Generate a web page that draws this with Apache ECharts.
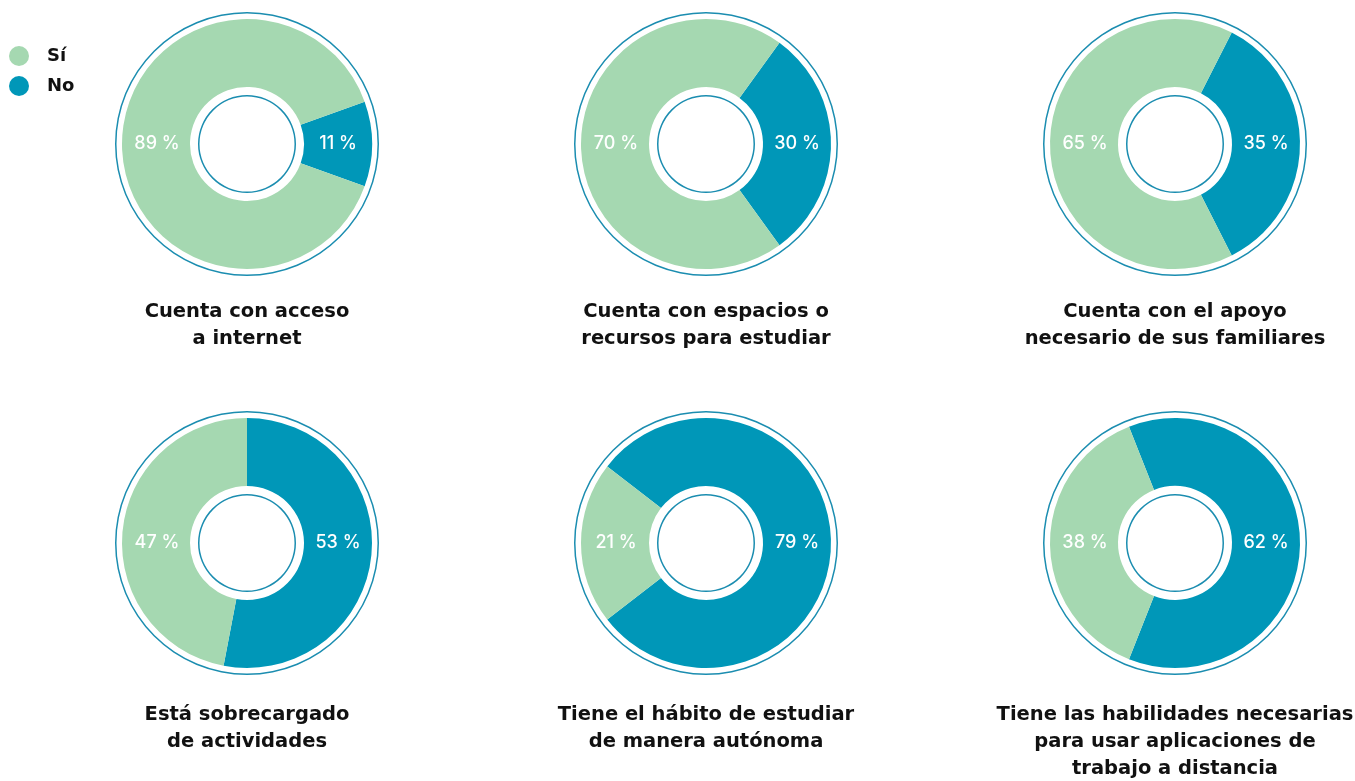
<!DOCTYPE html>
<html>
<head>
<meta charset="utf-8">
<script src="https://cdn.jsdelivr.net/npm/echarts@6/dist/echarts.min.js"></script>
<style>
  html, body { margin: 0; padding: 0; background: #fff; }
  #chart { width: 1355px; height: 781px; }
</style>
</head>
<body>
<div id="chart"></div>
<script>
"use strict"

// data
const categories = ["Sí", "No"];
const titles = [
    "Cuenta con acceso\na internet",
    "Cuenta con espacios o\nrecursos para estudiar",
    "Cuenta con el apoyo\nnecesario de sus familiares",
    "Está sobrecargado\nde actividades",
    "Tiene el hábito de estudiar\nde manera autónoma",
    "Tiene las habilidades necesarias\npara usar aplicaciones de\ntrabajo a distancia"
];
const siValues = [89, 70, 65, 47, 21, 38];
const noValues = [11, 30, 35, 53, 79, 62];

// layout
const centersX = [247, 706, 1175];
const centersY = [144, 543];
const titleTops = [293, 696];
const startAngles = [19.8, 54, 63, 90, 142.2, 111.6];
const GREEN = "#a5d8b1", BLUE = "#0097b8", LINE = "#1b8db0";
const TFONT = "'DejaVu Sans', sans-serif";
const LFONT = "Inter, 'Noto Sans', sans-serif";

const myChart = echarts.init(document.getElementById("chart"), null, { renderer: "canvas" });

const series = [];
const title = [];
titles.forEach((t, i) =>
{
    const cx = centersX[i % 3], cy = centersY[Math.floor(i / 3)];
    title.push({
        text: t,
        left: cx - 5,
        top: titleTops[Math.floor(i / 3)],
        textAlign: "center",
        textStyle: { fontFamily: TFONT, fontSize: 19.5, fontWeight: "bold", color: "#111", lineHeight: 27 }
    });
    // outer thin ring
    series.push({
        type: "pie", silent: true, animation: false,
        center: [cx, cy], radius: [130.5, 132],
        label: { show: false }, labelLine: { show: false },
        data: [{ value: 1, name: "", itemStyle: { color: LINE } }]
    });
    // inner thin ring
    series.push({
        type: "pie", silent: true, animation: false,
        center: [cx, cy], radius: [47.5, 49],
        label: { show: false }, labelLine: { show: false },
        data: [{ value: 1, name: "", itemStyle: { color: LINE } }]
    });
    series.push({
        type: "pie", animation: false,
        center: [cx, cy], radius: [57, 125],
        startAngle: startAngles[i], clockwise: true,
        label: {
            show: true, position: "inside", color: "#fff",
            fontFamily: LFONT, fontSize: 18, fontWeight: 500,
            formatter: p => p.value + " %"
        },
        labelLine: { show: false },
        labelLayout: p => ({
            x: cx + (p.dataIndex === 0 ? 91 : -90),
            y: cy, align: "center", verticalAlign: "middle"
        }),
        emphasis: { disabled: true },
        data: [
            { name: categories[1], value: noValues[i], itemStyle: { color: BLUE } },
            { name: categories[0], value: siValues[i], itemStyle: { color: GREEN } }
        ]
    });
});

const option = {
    color: [GREEN, BLUE],
    title: title,
    legend: {
        data: [
            { name: categories[0], itemStyle: { color: GREEN } },
            { name: categories[1], itemStyle: { color: BLUE } }
        ],
        orient: "vertical",
        left: 4, top: 41,
        icon: "circle",
        itemWidth: 20, itemHeight: 20, itemGap: 10,
        selectedMode: false,
        textStyle: { fontFamily: TFONT, fontSize: 18, fontWeight: "bold", color: "#111", padding: [0, 0, 0, 13] }
    },
    series: series
};

myChart.setOption(option);
</script>
</body>
</html>
